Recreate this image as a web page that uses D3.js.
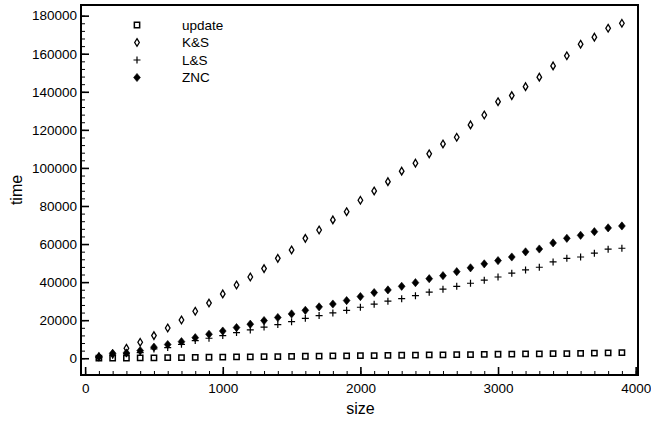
<!DOCTYPE html>
<html>
<head>
<meta charset="utf-8">
<script src="https://cdn.jsdelivr.net/npm/d3@7"></script>
<style>
  body { margin: 0; background: #fff; }
  text { font-family: "Liberation Sans", Arial, sans-serif; fill: #000; }
</style>
</head>
<body>
<svg id="chart"></svg>
<script>
var WIDTH = 651, HEIGHT = 422;
var FRAME = { LEFT: 81, RIGHT: 638, TOP: 5, BOTTOM: 375 };

// data
var sizes = [100, 200, 300, 400, 500, 600, 700, 800, 900, 1000,
    1100, 1200, 1300, 1400, 1500, 1600, 1700, 1800, 1900, 2000,
    2100, 2200, 2300, 2400, 2500, 2600, 2700, 2800, 2900, 3000,
    3100, 3200, 3300, 3400, 3500, 3600, 3700, 3800, 3900];
var updateTimes = [30, 60, 110, 170, 240, 310, 380, 450, 530, 600,
    680, 750, 830, 900, 980, 1050, 1120, 1200, 1270, 1350,
    1420, 1500, 1570, 1650, 1720, 1800, 1870, 1950, 2020, 2100,
    2170, 2250, 2330, 2400, 2480, 2560, 2660, 2800, 3000];
var ksTimes = [800, 2200, 5250, 8400, 11900, 15900, 20100, 24700, 29000, 33800,
    38500, 42700, 47100, 52500, 56900, 63000, 67400, 72700, 77000, 83000,
    87900, 92800, 98300, 102500, 107400, 112600, 116100, 122600, 127800, 134800,
    138000, 142700, 147700, 153600, 158900, 165000, 168700, 173400, 176000];
var lsTimes = [500, 1700, 2300, 3000, 4900, 5600, 7300, 9300, 10500, 11900,
    13500, 14900, 16400, 17700, 19200, 21000, 22400, 23800, 25200, 26800,
    28400, 30000, 31300, 32900, 34700, 36300, 37800, 39400, 41000, 42700,
    44700, 46400, 47800, 50600, 52500, 53200, 55200, 57300, 57800];
var zncTimes = [800, 2600, 2800, 4000, 5800, 7200, 8700, 10800, 12600, 14300,
    16100, 17900, 19800, 21400, 23300, 25200, 27000, 28500, 30300, 32400,
    34500, 35900, 37800, 39700, 41800, 43400, 45500, 47500, 49600, 51300,
    53200, 55900, 57400, 60600, 63000, 64600, 66500, 68500, 69500];
var seriesNames = ['update', 'K&S', 'L&S', 'ZNC'];
var xTicks = [0, 1000, 2000, 3000, 4000];
var yTicks = [0, 20000, 40000, 60000, 80000, 100000, 120000, 140000, 160000, 180000];

// custom diamond so width and height can differ
var diamond = function (w, h) {
    return {
        draw: function (ctx) {
            ctx.moveTo(0, -h / 2);
            ctx.lineTo(w / 2, 0);
            ctx.lineTo(0, h / 2);
            ctx.lineTo(-w / 2, 0);
            ctx.closePath();
        }
    };
};
var plus = {
    draw: function (ctx) {
        ctx.moveTo(-3.5, 0); ctx.lineTo(3.5, 0);
        ctx.moveTo(0, -3.5); ctx.lineTo(0, 3.5);
    }
};

var markers = [
    { type: d3.symbolSquare, size: 28, fill: 'none', stroke: 1.5 },
    { type: diamond(4.6, 7.6), size: 1, fill: 'none', stroke: 1.3 },
    { type: plus, size: 1, fill: 'none', stroke: 1.2 },
    { type: diamond(6.8, 8.2), size: 1, fill: '#000', stroke: 0.6 }
];
var allTimes = [updateTimes, ksTimes, lsTimes, zncTimes];

var xScale = d3.scaleLinear()
    .domain([-30, 4017])
    .range([FRAME.LEFT, FRAME.RIGHT]);
var yScale = d3.scaleLinear()
    .domain([-8800, 185600])
    .range([FRAME.BOTTOM, FRAME.TOP]);

var svg = d3.select('#chart')
    .attr('width', WIDTH)
    .attr('height', HEIGHT);

// minor ticks first, then major on top
var xMinor = d3.range(0, 4001, 100);
var yMinor = d3.range(0, 180001, 4000);

svg.append('g')
    .attr('transform', 'translate(0,' + FRAME.BOTTOM + ')')
    .call(d3.axisBottom(xScale).tickValues(xMinor).tickSize(-4).tickFormat(''))
    .call(function (g) { g.select('.domain').remove(); });
svg.append('g')
    .attr('transform', 'translate(' + FRAME.LEFT + ',0)')
    .call(d3.axisLeft(yScale).tickValues(yMinor).tickSize(-4).tickFormat(''))
    .call(function (g) { g.select('.domain').remove(); });

var xAxis = svg.append('g')
    .attr('transform', 'translate(0,' + FRAME.BOTTOM + ')')
    .call(d3.axisBottom(xScale).tickValues(xTicks).tickSize(-8).tickPadding(8).tickFormat(d3.format('d')));
xAxis.select('.domain').remove();
xAxis.selectAll('line').style('stroke-width', 1.6);
xAxis.selectAll('text').style('font-size', '13.5px');

var yAxis = svg.append('g')
    .attr('transform', 'translate(' + FRAME.LEFT + ',0)')
    .call(d3.axisLeft(yScale).tickValues(yTicks).tickSize(-8).tickPadding(4).tickFormat(d3.format('d')));
yAxis.select('.domain').remove();
yAxis.selectAll('line').style('stroke-width', 1.6);
yAxis.selectAll('text').style('font-size', '13.5px');

// frame
svg.append('rect')
    .attr('x', FRAME.LEFT)
    .attr('y', FRAME.TOP)
    .attr('width', FRAME.RIGHT - FRAME.LEFT)
    .attr('height', FRAME.BOTTOM - FRAME.TOP)
    .style('fill', 'none')
    .style('stroke', '#000')
    .style('stroke-width', 2);

// points
allTimes.forEach(function (times, i) {
    var m = markers[i];
    svg.append('g')
        .selectAll('path')
        .data(times)
        .enter()
        .append('path')
        .attr('transform', function (d, j) {
            return 'translate(' + xScale(sizes[j]) + ',' + yScale(d) + ')';
        })
        .attr('d', d3.symbol().type(m.type).size(m.size))
        .style('fill', m.fill)
        .style('stroke', '#000')
        .style('stroke-width', m.stroke);
});

// legend
var legend = svg.append('g');
seriesNames.forEach(function (name, i) {
    var m = markers[i];
    var ly = 25 + i * 17.5;
    legend.append('path')
        .attr('transform', 'translate(137,' + ly + ')')
        .attr('d', d3.symbol().type(m.type).size(m.size))
        .style('fill', m.fill)
        .style('stroke', '#000')
        .style('stroke-width', m.stroke);
    legend.append('text')
        .attr('x', 182)
        .attr('y', ly + 4.5)
        .style('font-size', '13.5px')
        .text(name);
});

// axis titles
svg.append('text')
    .attr('x', (FRAME.LEFT + FRAME.RIGHT) / 2 + 1)
    .attr('y', 414)
    .attr('text-anchor', 'middle')
    .style('font-size', '16px')
    .text('size');
svg.append('text')
    .attr('transform', 'translate(22,' + ((FRAME.TOP + FRAME.BOTTOM) / 2) + ') rotate(-90)')
    .attr('text-anchor', 'middle')
    .style('font-size', '16px')
    .text('time');
</script>
</body>
</html>
